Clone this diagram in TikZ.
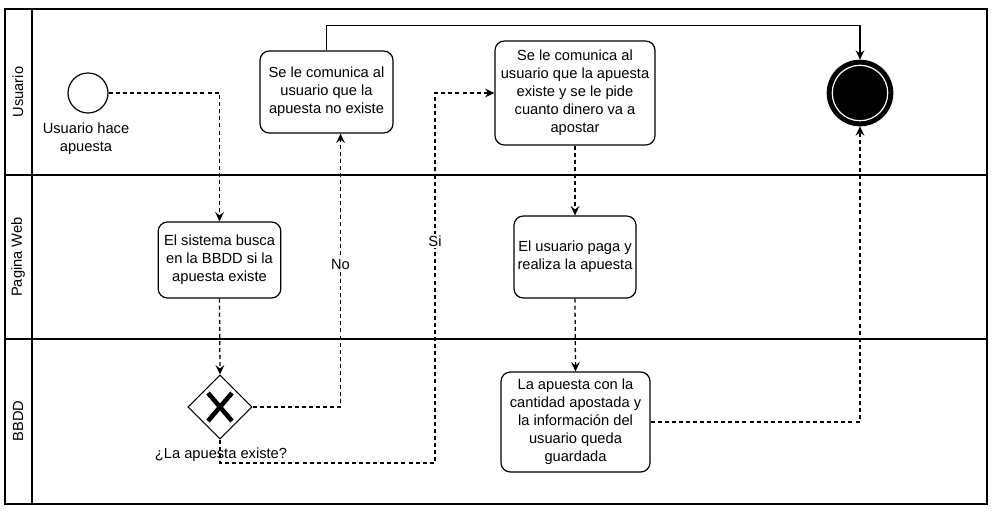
\documentclass[tikz,border=0pt]{standalone}
\usepackage{fontspec}
\setmainfont{Liberation Sans}
\usetikzlibrary{arrows.meta,shapes.geometric}

\begin{document}
\begin{tikzpicture}[x=0.75pt,y=-0.75pt,
  lane/.style={line width=1.5pt},
  task/.style={draw,rounded corners=7pt,line width=0.9pt,align=center,inner sep=2pt,font=\fontsize{11}{13.5}\selectfont},
  flow/.style={dash pattern=on 3pt off 2.3pt,line width=0.95pt,-{Stealth[length=7pt,width=6.5pt,inset=2.5pt]}},
  seq/.style={line width=0.95pt,-{Stealth[length=7pt,width=6.5pt,inset=2.5pt]}},
  txt/.style={font=\fontsize{11}{13.5}\selectfont,align=center}]
\useasboundingbox (0,0) rectangle (995,511);

% pool and lanes
\draw[lane] (5,9) rectangle (987,504);
\draw[lane] (32,9) -- (32,504);
\draw[lane] (5,175) -- (987,175);
\draw[lane] (5,339) -- (987,339);
\node[txt,rotate=90] (lusuario) at (18,92) {Usuario};
\node[txt,rotate=90] (lweb) at (18,257) {Pagina Web};
\node[txt,rotate=90] (lbbdd) at (18,421) {BBDD};

% events
\node[draw,circle,line width=0.9pt,minimum size=30pt,inner sep=0pt] (inicio) at (88,93) {};
\node[txt] (linicio) at (86,139) {Usuario hace\\apuesta};
\node[draw,circle,fill=black,line width=3pt,minimum size=47pt,inner sep=0pt] (fin) at (860,93) {};
\draw[white,line width=0.9pt] (fin.center) circle[radius=20.8pt];

% tasks
\node[task,minimum width=92pt,minimum height=57pt] (buscar) at (219.5,260) {El sistema busca\\en la BBDD si la\\apuesta existe};
\node[task,minimum width=99.75pt,minimum height=61.5pt] (noexiste) at (326.5,92) {Se le comunica al\\usuario que la\\apuesta no existe};
\node[task,minimum width=120pt,minimum height=78pt] (existe) at (575,93) {Se le comunica al\\usuario que la apuesta\\existe y se le pide\\cuanto dinero va a\\apostar};
\node[task,minimum width=91.5pt,minimum height=61.5pt] (paga) at (575,257) {El usuario paga y\\realiza la apuesta};
\node[task,minimum width=111.75pt,minimum height=75pt] (guardar) at (575.5,422) {La apuesta con la\\cantidad apostada y\\la información del\\usuario queda\\guardada};

% gateway
\node[draw,diamond,line width=0.8pt,minimum width=48pt,minimum height=48pt,inner sep=0pt] (decision) at (220,407) {};
\draw[line width=3.4pt] (208,393) -- (232,421);
\draw[line width=3.4pt] (232,393) -- (208,421);
\node[txt] (ldecision) at (221,455) {¿La apuesta existe?};

% flows
\draw[flow] (inicio.east) -| (buscar.north);
\draw[flow] (buscar.south) -- (decision.north);
\draw[flow] (decision.east) -| node[pos=0.76,fill=white,txt,inner sep=1pt] {No} ([xshift=10.5pt]noexiste.south);
\draw[flow] (decision.south) |- (435,463) |- node[pos=0.3,fill=white,txt,inner sep=1pt] {Si} (existe.west);
\draw[flow] (existe.south) -- (paga.north);
\draw[flow] (paga.south) -- (guardar.north);
\draw[flow] (guardar.east) -| (fin.south);
\draw[seq] (noexiste.north) -- ++(0,-25) -| (fin.north);
\end{tikzpicture}
\end{document}
